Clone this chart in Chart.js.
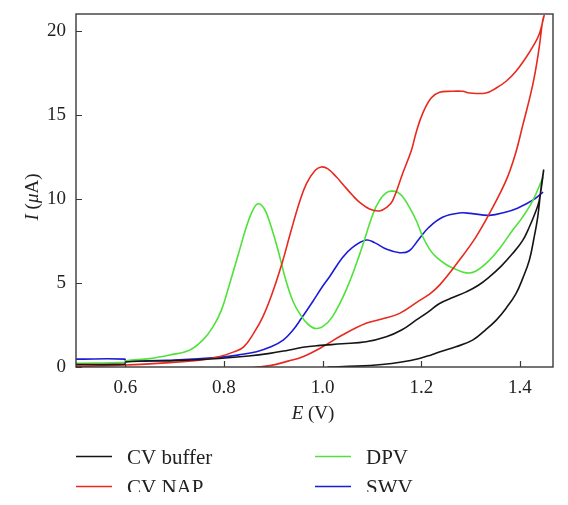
<!DOCTYPE html>
<html>
<head>
<meta charset="utf-8">
<script src="https://cdn.jsdelivr.net/npm/chart.js@4"></script>
<style>
  html, body { margin: 0; padding: 0; background: #fff; }
  #wrap { width: 568px; height: 505px; }
</style>
</head>
<body>
<div id="wrap"><canvas id="grafica" width="568" height="505"></canvas></div>
<script>
const xTicks = [0.6, 0.8, 1.0, 1.2, 1.4];
const yTicks = [0, 5, 10, 15, 20];
const seriesNames = ['CV buffer', 'CV NAP', 'DPV', 'SWV'];
const seriesColors = ['#151515', '#e8291e', '#4fe23a', '#1c1cd8'];

// CV buffer (forward then reverse scan)
const bufferE = [0.5, 0.599, 0.601, 0.7, 0.79, 0.85, 0.893, 0.93, 0.96, 0.99, 1.04, 1.088, 1.129, 1.16, 1.19, 1.215, 1.237, 1.265, 1.291, 1.315, 1.338, 1.362, 1.385, 1.405, 1.419, 1.43, 1.439, 1.448,
  1.443, 1.436, 1.428, 1.419, 1.406, 1.392, 1.372, 1.352, 1.33, 1.304, 1.27, 1.243, 1.22, 1.196, 1.16, 1.12, 1.07, 1.01];
const bufferI = [0.15, 0.17, 0.3, 0.38, 0.51, 0.65, 0.81, 1.0, 1.17, 1.27, 1.38, 1.5, 1.8, 2.2, 2.8, 3.3, 3.78, 4.15, 4.47, 4.85, 5.36, 6.0, 6.75, 7.5, 8.33, 9.1, 9.9, 11.7,
  10.7, 8.92, 7.6, 6.35, 5.3, 4.37, 3.5, 2.79, 2.2, 1.6, 1.2, 0.95, 0.72, 0.51, 0.3, 0.15, 0.05, 0.0];

// CV NAP
const napE = [0.5, 0.6, 0.69, 0.75, 0.79, 0.82, 0.84, 0.86, 0.879, 0.898, 0.918, 0.935, 0.953, 0.967, 0.985, 0.997, 1.01, 1.028, 1.04, 1.061, 1.075, 1.095, 1.115, 1.13, 1.142, 1.162, 1.18, 1.19, 1.203, 1.22, 1.237, 1.26, 1.284, 1.298, 1.331, 1.352, 1.372, 1.392, 1.412, 1.427, 1.439, 1.449,
  1.446, 1.438, 1.426, 1.405, 1.39, 1.372, 1.338, 1.31, 1.277, 1.237, 1.215, 1.196, 1.156, 1.12, 1.088, 1.04, 0.994, 0.96, 0.93, 0.893, 0.86, 0.8, 0.7, 0.6, 0.52, 0.5];
const napI = [0.05, 0.12, 0.26, 0.4, 0.61, 0.9, 1.2, 2.0, 3.0, 4.4, 6.2, 8.0, 9.8, 10.9, 11.7, 11.9, 11.8, 11.3, 10.9, 10.2, 9.8, 9.4, 9.28, 9.5, 9.9, 11.5, 12.9, 14.0, 15.1, 16.0, 16.34, 16.4, 16.4, 16.3, 16.3, 16.6, 17.0, 17.6, 18.4, 19.1, 19.8, 20.9,
  20.6, 18.8, 16.8, 14.3, 12.6, 11.1, 9.12, 7.7, 6.35, 4.87, 4.3, 3.95, 3.19, 2.85, 2.6, 1.9, 1.1, 0.61, 0.35, 0.08, -0.03, -0.1, -0.12, -0.08, -0.02, 0.0];

// DPV
const dpvE = [0.5, 0.599, 0.601, 0.65, 0.69, 0.73, 0.757, 0.778, 0.795, 0.812, 0.83, 0.845, 0.858, 0.869, 0.882, 0.895, 0.91, 0.925, 0.94, 0.955, 0.97, 0.984, 1.0, 1.02, 1.048, 1.075, 1.102, 1.115, 1.128, 1.139, 1.152, 1.163, 1.176, 1.19, 1.203, 1.217, 1.23, 1.25, 1.267, 1.291, 1.31, 1.338, 1.36, 1.385, 1.405, 1.426, 1.447];
const dpvI = [0.22, 0.28, 0.37, 0.5, 0.71, 1.0, 1.6, 2.4, 3.4, 5.0, 6.8, 8.3, 9.3, 9.71, 9.4, 8.4, 6.9, 5.2, 3.9, 3.1, 2.55, 2.3, 2.4, 3.0, 4.6, 6.7, 9.1, 9.9, 10.35, 10.46, 10.4, 10.1, 9.5, 8.7, 7.75, 7.0, 6.55, 6.1, 5.85, 5.6, 5.7, 6.35, 7.1, 8.13, 8.9, 9.9, 11.3];

// SWV
const swvE = [0.5, 0.599, 0.601, 0.7, 0.79, 0.83, 0.866, 0.895, 0.92, 0.94, 0.957, 0.98, 1.0, 1.014, 1.04, 1.06, 1.088, 1.105, 1.13, 1.156, 1.175, 1.195, 1.215, 1.244, 1.277, 1.3, 1.338, 1.372, 1.395, 1.412, 1.43, 1.447];
const swvI = [0.47, 0.47, 0.36, 0.42, 0.57, 0.72, 0.91, 1.2, 1.6, 2.2, 2.9, 3.9, 4.8, 5.37, 6.5, 7.1, 7.55, 7.4, 7.0, 6.8, 6.9, 7.6, 8.3, 8.92, 9.16, 9.14, 9.02, 9.22, 9.45, 9.7, 10.0, 10.4];

const serif = '"Liberation Serif", "Times New Roman", serif';

function puntos(xs, ys) {
  return xs.map((x, i) => ({ x: x, y: ys[i] }));
}

const series = [
  puntos(bufferE, bufferI),
  puntos(napE, napI),
  puntos(dpvE, dpvI),
  puntos(swvE, swvI)
];

// draws the box, inward ticks, axis titles and the two-column legend
const decoracion = {
  id: 'decoracion',
  afterDraw(chart) {
    const ctx = chart.ctx;
    const a = chart.chartArea;
    const sx = chart.scales.x;
    const sy = chart.scales.y;
    ctx.save();
    ctx.strokeStyle = '#3a3a3a';
    ctx.lineWidth = 1.4;
    ctx.strokeRect(a.left, a.top, a.right - a.left, a.bottom - a.top);
    ctx.lineWidth = 1.2;
    ctx.beginPath();
    xTicks.forEach((v) => {
      const px = Math.round(sx.getPixelForValue(v)) + 0.5;
      ctx.moveTo(px, a.bottom);
      ctx.lineTo(px, a.bottom - 6);
    });
    yTicks.forEach((v) => {
      const py = Math.round(sy.getPixelForValue(v)) + 0.5;
      ctx.moveTo(a.left, py);
      ctx.lineTo(a.left + 6, py);
    });
    ctx.stroke();

    // axis titles with italic symbols
    ctx.fillStyle = '#222';
    ctx.textBaseline = 'alphabetic';
    const partes = (trozos, cx, cy) => {
      let total = 0;
      trozos.forEach((t) => {
        ctx.font = (t[1] ? 'italic ' : '') + '19px ' + serif;
        total += ctx.measureText(t[0]).width;
      });
      let x = cx - total / 2;
      ctx.textAlign = 'left';
      trozos.forEach((t) => {
        ctx.font = (t[1] ? 'italic ' : '') + '19px ' + serif;
        ctx.fillText(t[0], x, cy);
        x += ctx.measureText(t[0]).width;
      });
    };
    partes([['E', true], [' (V)', false]], 313, 419);
    ctx.save();
    ctx.translate(38, 197);
    ctx.rotate(-Math.PI / 2);
    partes([['I', true], [' (', false], ['\u03bc', true], ['A)', false]], 0, 0);
    ctx.restore();

    // legend, clipped at the bottom like the reference
    ctx.save();
    ctx.beginPath();
    ctx.rect(0, 0, chart.width, 492);
    ctx.clip();
    const cols = [76, 315];
    const rows = [456.5, 486.5];
    const orden = [[0, 0, 0], [1, 0, 1], [2, 1, 0], [3, 1, 1]];
    ctx.font = '21px ' + serif;
    ctx.lineWidth = 1.5;
    orden.forEach(([k, c, r]) => {
      const x0 = cols[c];
      const y0 = rows[r];
      ctx.strokeStyle = seriesColors[k];
      ctx.beginPath();
      ctx.moveTo(x0, y0);
      ctx.lineTo(x0 + 36, y0);
      ctx.stroke();
      ctx.fillStyle = '#222';
      ctx.fillText(seriesNames[k], x0 + 51, y0 + 7);
    });
    ctx.restore();
    ctx.restore();
  }
};

new Chart(document.getElementById('grafica').getContext('2d'), {
  type: 'scatter',
  data: {
    datasets: series.map((d, k) => ({
      label: seriesNames[k],
      data: d,
      showLine: true,
      borderColor: seriesColors[k],
      borderWidth: 1.6,
      pointRadius: 0,
      tension: 0.4,
      fill: false
    }))
  },
  options: {
    responsive: false,
    animation: false,
    devicePixelRatio: 1,
    layout: { padding: { left: 0, right: 15, top: 14, bottom: 0 } },
    plugins: { legend: { display: false }, tooltip: { enabled: false } },
    scales: {
      x: {
        type: 'linear',
        min: 0.5,
        max: 1.467,
        grid: { display: false, drawTicks: false },
        border: { display: false },
        afterFit: (s) => { s.height = 138; s.paddingLeft = 0; s.paddingRight = 0; },
        afterBuildTicks: (s) => { s.ticks = xTicks.map((v) => ({ value: v })); },
        ticks: {
          padding: 10,
          color: '#222',
          font: { family: serif, size: 19 },
          callback: (v) => v.toFixed(1)
        }
      },
      y: {
        type: 'linear',
        min: 0,
        max: 21,
        grid: { display: false, drawTicks: false },
        border: { display: false },
        afterFit: (s) => { s.width = 76; s.paddingTop = 0; s.paddingBottom = 0; },
        afterBuildTicks: (s) => { s.ticks = yTicks.map((v) => ({ value: v })); },
        ticks: {
          padding: 10,
          color: '#222',
          font: { family: serif, size: 19 },
          callback: (v) => String(v)
        }
      }
    }
  },
  plugins: [decoracion]
});
</script>
</body>
</html>
